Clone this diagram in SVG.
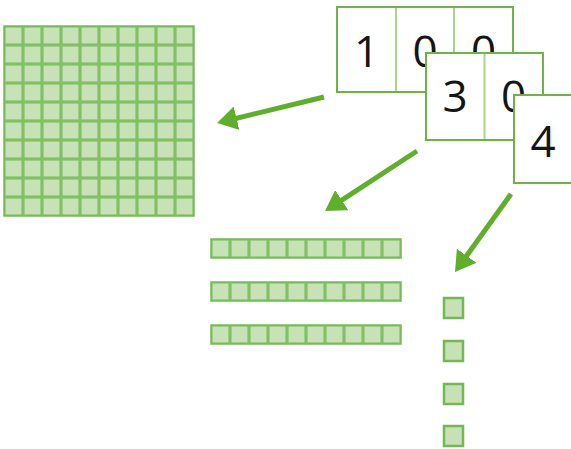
<svg xmlns="http://www.w3.org/2000/svg" width="571" height="449" viewBox="0 0 571 449">
<style>
.card{fill:#ffffff;stroke:#6cb443;stroke-width:2}
.div{stroke:#a9d28f;stroke-width:2}
.dig{font-family:"Open Sans","Liberation Sans",sans-serif;font-size:44px;fill:#151515;text-anchor:middle}
.arrow{stroke:#5fae2c;stroke-width:5;fill:none;marker-end:url(#head)}
.blk{fill:url(#cell);stroke:#76bb57;stroke-width:1.5}
.unit{fill:#c6e1b5;stroke:#72b853;stroke-width:2.5}
</style>
<defs>
<pattern id="cell" patternUnits="userSpaceOnUse" x="0" y="0" width="19" height="19">
<rect x="0" y="0" width="19" height="19" fill="#c6e1b5"/>
<rect x="0.8" y="0.8" width="17.4" height="17.4" fill="#c8e2b8" stroke="#74ba55" stroke-width="1.6" stroke-opacity="0.85"/>
</pattern>
<marker id="head" viewBox="0 0 20 24" refX="4" refY="12" markerUnits="userSpaceOnUse" markerWidth="20" markerHeight="24" orient="auto">
<path d="M0,0 L20,12 L0,24 Z" fill="#5fae2c"/>
</marker>
</defs>
<g id="hundred-block" transform="translate(4,26)">
<rect class="blk" x="0" y="0" width="190" height="190"/>
</g>
<g id="ten-bar-1" transform="translate(211,239)">
<rect class="blk" x="0" y="0" width="190" height="19"/>
</g>
<g id="ten-bar-2" transform="translate(211,282)">
<rect class="blk" x="0" y="0" width="190" height="19"/>
</g>
<g id="ten-bar-3" transform="translate(211,325)">
<rect class="blk" x="0" y="0" width="190" height="19"/>
</g>
<g id="unit-1"><rect class="unit" x="444" y="298" width="19" height="20"/></g>
<g id="unit-2"><rect class="unit" x="444" y="341" width="19" height="20"/></g>
<g id="unit-3"><rect class="unit" x="444" y="384" width="19" height="20"/></g>
<g id="unit-4"><rect class="unit" x="444" y="426" width="19" height="20"/></g>
<g id="card-100">
<rect class="card" x="337" y="7" width="176" height="85"/>
<line class="div" x1="396" y1="8" x2="396" y2="91"/>
<line class="div" x1="454" y1="8" x2="454" y2="91"/>
<text class="dig" x="366.5" y="67">1</text>
<text class="dig" x="425" y="67">0</text>
<text class="dig" x="483.5" y="67">0</text>
</g>
<g id="card-30">
<rect class="card" x="426" y="53" width="117" height="87"/>
<line class="div" x1="484.5" y1="54" x2="484.5" y2="139"/>
<text class="dig" x="455" y="112">3</text>
<text class="dig" x="513.5" y="112">0</text>
</g>
<g id="card-4">
<rect class="card" x="514" y="95" width="60" height="88"/>
<text class="dig" x="543" y="157">4</text>
</g>
<g id="connectors">
<line class="arrow" x1="324" y1="97" x2="232.6" y2="119.2"/>
<line class="arrow" x1="417" y1="151" x2="338.4" y2="202.3"/>
<line class="arrow" x1="511" y1="194" x2="464.3" y2="259"/>
</g>
</svg>
